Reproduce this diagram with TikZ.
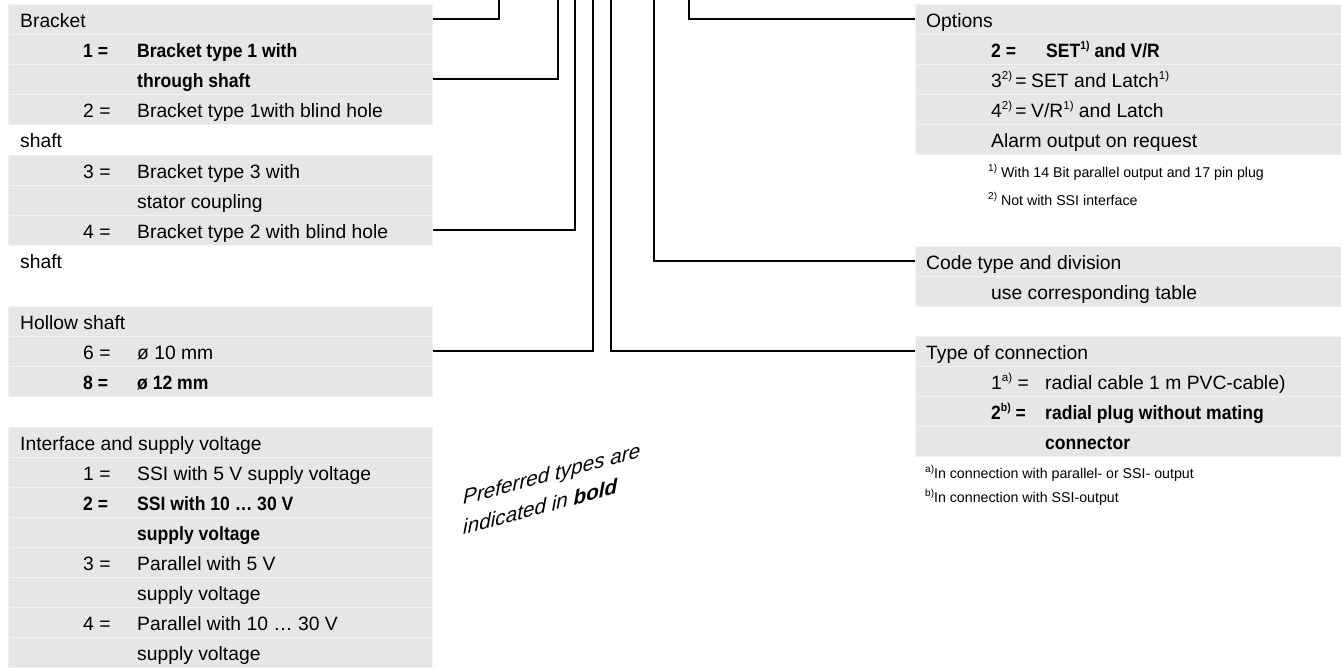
\documentclass[tikz,border=0pt]{standalone}
\usepackage{fontspec}
\setmainfont{Liberation Sans}
\newfontfamily\condbold{Liberation Sans}[FakeStretch=0.91]
\definecolor{rowgrey}{RGB}{230,230,230}
\definecolor{rowsep}{RGB}{242,242,242}
\newcommand\spx[1]{\raisebox{0.42em}{\fontsize{11.5}{12}\selectfont #1}}
\newcommand\fsp[1]{\raisebox{0.4em}{\fontsize{10}{10}\selectfont #1}}
\begin{document}
\begin{tikzpicture}[x=1pt,y=-1pt,
  row/.style={rectangle, fill=rowgrey, draw=rowsep, line width=0.8pt, minimum width=424pt, minimum height=30pt, inner sep=0pt, anchor=north west},
  rrow/.style={row, minimum width=426pt},
  txt/.style={anchor=base west, inner sep=0pt, font=\fontsize{19.3}{23}\selectfont},
  btxt/.style={anchor=base west, inner sep=0pt, font=\fontsize{19.3}{23}\selectfont\condbold\bfseries},
  fn/.style={anchor=base west, inner sep=0pt, font=\fontsize{14.2}{17}\selectfont},
  pref/.style={anchor=base west, inner sep=0pt, yslant=0.27, font=\fontsize{20.7}{24}\selectfont\itshape},
  conn/.style={line width=2pt}]
\useasboundingbox (0,0) rectangle (1341,667);
% ---------- left: Bracket ----------
\node[row] (a0) at (8,4) {};
\node[row] (a1) at (8,34) {};
\node[row] (a2) at (8,64) {};
\node[row] (a3) at (8,94) {};
\node[txt] (ta0) at (20,27.5) {Bracket};
\node[btxt] (na1) at (83,57.5) {1 =};
\node[btxt] (ta1) at (137,57.5) {Bracket type 1 with};
\node[btxt] (ta2) at (137,87.5) {through shaft};
\node[txt] (na3) at (83,117.5) {2 =};
\node[txt] (ta3) at (137,117.5) {Bracket type 1with blind hole};
\node[txt] (sh1) at (20,147.5) {shaft};
\node[row] (b0) at (8,155) {};
\node[row] (b1) at (8,185) {};
\node[row] (b2) at (8,215) {};
\node[txt] (nb0) at (83,178.5) {3 =};
\node[txt] (tb0) at (137,178.5) {Bracket type 3 with};
\node[txt] (tb1) at (137,208.5) {stator coupling};
\node[txt] (nb2) at (83,238.5) {4 =};
\node[txt] (tb2) at (137,238.5) {Bracket type 2 with blind hole};
\node[txt] (sh2) at (20,268) {shaft};
% ---------- left: Hollow shaft ----------
\node[row] (h0) at (8,306) {};
\node[row] (h1) at (8,336) {};
\node[row] (h2) at (8,366) {};
\node[txt] (th0) at (20,329.5) {Hollow shaft};
\node[txt] (nh1) at (83,359.5) {6 =};
\node[txt] (th1) at (137,359.5) {ø 10 mm};
\node[btxt] (nh2) at (83,389.5) {8 =};
\node[btxt] (th2) at (137,389.5) {ø 12 mm};
% ---------- left: Interface ----------
\node[row] (i0) at (8,427) {};
\node[row] (i1) at (8,457) {};
\node[row] (i2) at (8,487) {};
\node[row] (i3) at (8,517) {};
\node[row] (i4) at (8,547) {};
\node[row] (i5) at (8,577) {};
\node[row] (i6) at (8,607) {};
\node[row] (i7) at (8,637) {};
\node[txt] (ti0) at (20,450.5) {Interface and supply voltage};
\node[txt] (ni1) at (83,480.5) {1 =};
\node[txt] (ti1) at (137,480.5) {SSI with 5 V supply voltage};
\node[btxt] (ni2) at (83,510.5) {2 =};
\node[btxt] (ti2) at (137,510.5) {SSI with 10 … 30 V};
\node[btxt] (ti3) at (137,540.5) {supply voltage};
\node[txt] (ni4) at (83,570.5) {3 =};
\node[txt] (ti4) at (137,570.5) {Parallel with 5 V};
\node[txt] (ti5) at (137,600.5) {supply voltage};
\node[txt] (ni6) at (83,630.5) {4 =};
\node[txt] (ti6) at (137,630.5) {Parallel with 10 … 30 V};
\node[txt] (ti7) at (137,660.5) {supply voltage};
% ---------- right: Options ----------
\node[rrow] (o0) at (915,4) {};
\node[rrow] (o1) at (915,34) {};
\node[rrow] (o2) at (915,64) {};
\node[rrow] (o3) at (915,94) {};
\node[rrow] (o4) at (915,124) {};
\node[txt] (to0) at (926,27.5) {Options};
\node[btxt] (no1) at (991,57.5) {2 =};
\node[btxt] (to1) at (1046,57.5) {SET\spx{1)} and V/R};
\node[txt] (no2) at (991,87.5) {3\spx{2)}\,=};
\node[txt] (to2) at (1031,87.5) {SET and Latch\spx{1)}};
\node[txt] (no3) at (991,117.5) {4\spx{2)}\,=};
\node[txt] (to3) at (1031,117.5) {V/R\spx{1)} and Latch};
\node[txt] (to4) at (991,147.5) {Alarm output on request};
\node[fn] (fo1) at (988,177) {\fsp{1)} With 14 Bit parallel output and 17 pin plug};
\node[fn] (fo2) at (988,205) {\fsp{2)} Not with SSI interface};
% ---------- right: Code type ----------
\node[rrow] (c0) at (915,246) {};
\node[rrow] (c1) at (915,276) {};
\node[txt] (tc0) at (926,269.5) {Code type and division};
\node[txt] (tc1) at (991,299.5) {use corresponding table};
% ---------- right: Type of connection ----------
\node[rrow] (t0) at (915,336) {};
\node[rrow] (t1) at (915,366) {};
\node[rrow] (t2) at (915,396) {};
\node[rrow] (t3) at (915,426) {};
\node[txt] (tt0) at (926,359.5) {Type of connection};
\node[txt] (nt1) at (991,389.5) {1\spx{a)} =};
\node[txt] (tt1) at (1045,389.5) {radial cable 1 m PVC-cable)};
\node[btxt] (nt2) at (991,419.5) {2\spx{b)} =};
\node[btxt] (tt2) at (1045,419.5) {radial plug without mating};
\node[btxt] (tt3) at (1045,449.5) {connector};
\node[fn] (ft1) at (925,478) {\fsp{a)}In connection with parallel- or SSI- output};
\node[fn] (ft2) at (925,502) {\fsp{b)}In connection with SSI-output};
% ---------- note ----------
\node[pref] (p1) at (463,505) {Preferred types are};
\node[pref] (p2) at (463,535) {indicated in \textbf{bold}};
% ---------- connectors ----------
\coordinate (u1) at (499,0);
\coordinate (u2) at (558,0);
\coordinate (u3) at (575,0);
\coordinate (u4) at (593,0);
\coordinate (u5) at (611,0);
\coordinate (u6) at (654,0);
\coordinate (u7) at (689,0);
\draw[conn] (u1) |- (a0.east);
\draw[conn] (u2) |- (a2.east);
\draw[conn] (u3) |- (b2.east);
\draw[conn] (u4) |- (h1.east);
\draw[conn] (u5) |- (t0.west);
\draw[conn] (u6) |- (c0.west);
\draw[conn] (u7) |- (o0.west);
\end{tikzpicture}
\end{document}
